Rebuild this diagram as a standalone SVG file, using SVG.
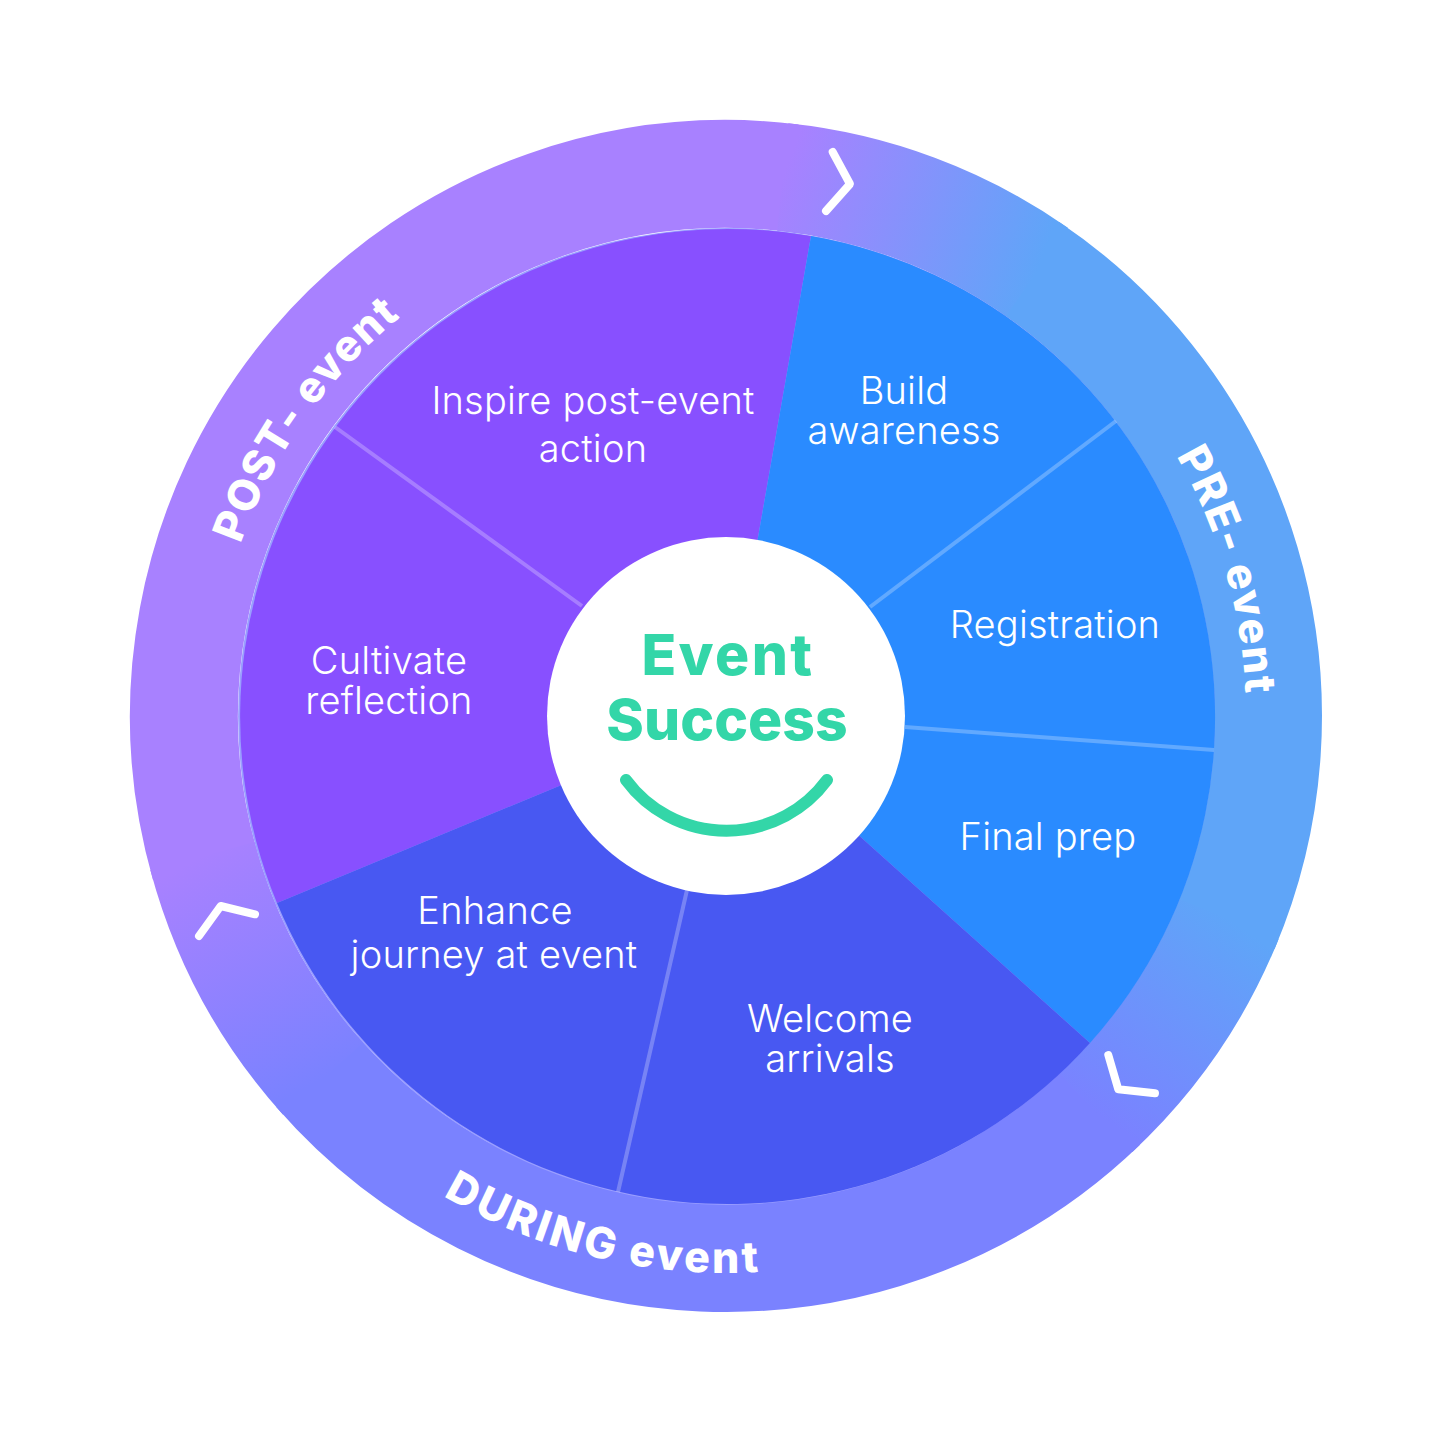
<svg xmlns="http://www.w3.org/2000/svg" width="1440" height="1440" viewBox="0 0 1440 1440">
<style>
.ring{fill:none;stroke-width:108}
.lbl{font-family:"Inter","Liberation Sans",sans-serif;font-size:38px;font-weight:300;letter-spacing:.2px;fill:#fff;text-anchor:middle}
.phase{font-family:"Inter","Liberation Sans",sans-serif;font-size:43px;font-weight:800;fill:#fff}
.ctr{font-family:"Inter","Liberation Sans",sans-serif;font-size:57px;font-weight:800;fill:#33d6a8;text-anchor:middle}
.chev{fill:none;stroke:#fff;stroke-width:8;stroke-linecap:round;stroke-linejoin:round}
.div{stroke:#fff;stroke-opacity:.26;stroke-width:4;fill:none}
</style>
<defs>
<linearGradient id="g1" gradientUnits="userSpaceOnUse" x1="782.7" y1="177" x2="1036.9" y2="272"><stop offset="0" stop-color="#a881ff"/><stop offset="1" stop-color="#5fa5f8"/></linearGradient>
<linearGradient id="g2" gradientUnits="userSpaceOnUse" x1="1228.5" y1="919" x2="1095.6" y2="1112.4"><stop offset="0" stop-color="#5fa5f8"/><stop offset="1" stop-color="#7a82ff"/></linearGradient>
<linearGradient id="g3" gradientUnits="userSpaceOnUse" x1="323.2" y1="1078.7" x2="202.5" y2="856"><stop offset="0" stop-color="#7a82ff"/><stop offset="1" stop-color="#a881ff"/></linearGradient>
<path id="pPre" d="M1176.3,456A520,520 0 0 1 1238,806.3"/>
<path id="pPost" d="M240.6,544.1A515,515 0 0 1 468.5,270"/>
<path id="pDur" d="M443.3,1195.9A557,557 0 0 0 822.7,1264.5"/>
</defs>
<rect width="1440" height="1440" fill="#fff"/>
<g id="ring">
<path class="ring" stroke="#5fa5f8" d="M1029,266.7A542,542 0 0 1 1224.9,927.8"/>
<path class="ring" stroke="#7a82ff" d="M1102.5,1105.9A542,542 0 0 1 317,1071.6"/>
<path class="ring" stroke="#a881ff" d="M205,865.4A542,542 0 0 1 792,178"/>
<path class="ring" stroke="url(#g1)" d="M782.7,177A542,542 0 0 1 1036.9,272"/>
<path class="ring" stroke="url(#g2)" d="M1228.5,919A542,542 0 0 1 1095.6,1112.4"/>
<path class="ring" stroke="url(#g3)" d="M323.2,1078.7A542,542 0 0 1 202.5,856"/>
<circle cx="726.5" cy="716.5" r="488.4" fill="#9a9eff"/>
</g>
<g id="segments">
<path id="seg-post" fill="#8850ff" d="M726.5,716.5L277,903A488,488 0 0 1 811,236Z"/>
<path id="seg-pre" fill="#2a8bff" d="M726.5,716.5L811,236A488,488 0 0 1 1090,1043Z"/>
<path id="seg-during" fill="#4858f2" d="M726.5,716.5L1090,1043A488,488 0 0 1 277,903Z"/>
</g>
<g id="connectors">
<path class="div" d="M1116,421L870,607"/>
<path class="div" d="M905,727L1214,750"/>
<path class="div" d="M687,890L618,1192"/>
<path class="div" d="M335,427L582,606"/>
</g>
<g id="chevrons">
<path class="chev" d="M832.7,152L850,184L826,211"/>
<path class="chev" d="M199,936L220.7,906L255,914.3"/>
<path class="chev" d="M1108.3,1055L1118.3,1089.3L1155,1093.3"/>
</g>
<g id="node-center">
<circle cx="726" cy="716" r="179" fill="#fff"/>
<text class="ctr" x="728" y="675" style="letter-spacing:2.4px">Event</text>
<text class="ctr" x="727" y="740">Success</text>
<path d="M626,780A125,125 0 0 0 827,780" fill="none" stroke="#33d6a8" stroke-width="12" stroke-linecap="round"/>
</g>
<g id="node-inspire"><text class="lbl" x="593" y="414">Inspire post-event</text><text class="lbl" x="593" y="462">action</text></g>
<g id="node-build"><text class="lbl" x="904" y="404">Build</text><text class="lbl" x="904" y="444">awareness</text></g>
<g id="node-registration"><text class="lbl" x="1055" y="638">Registration</text></g>
<g id="node-final"><text class="lbl" x="1048" y="850">Final prep</text></g>
<g id="node-welcome"><text class="lbl" x="830" y="1032">Welcome</text><text class="lbl" x="830" y="1072">arrivals</text></g>
<g id="node-enhance"><text class="lbl" x="495" y="924">Enhance</text><text class="lbl" x="494" y="968">journey at event</text></g>
<g id="node-cultivate"><text class="lbl" x="389" y="674">Cultivate</text><text class="lbl" x="389" y="714">reflection</text></g>
<g id="phase-labels">
<text class="phase" style="letter-spacing:1.85px"><textPath href="#pPre">PRE- event</textPath></text>
<text class="phase" style="letter-spacing:1.4px"><textPath href="#pPost">POST- event</textPath></text>
<text class="phase" style="letter-spacing:2.8px"><textPath href="#pDur">DURING event</textPath></text>
</g>
</svg>
